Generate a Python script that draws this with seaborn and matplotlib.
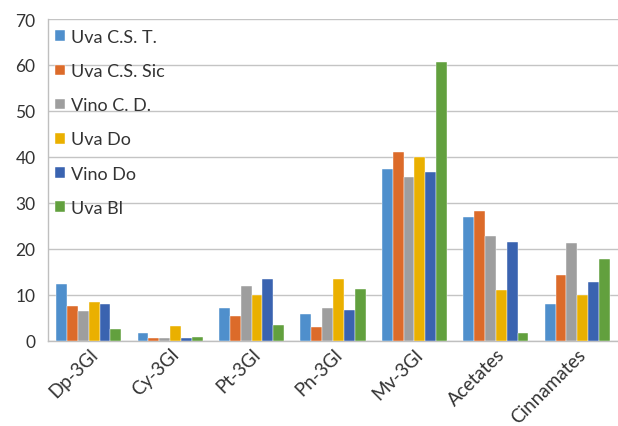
import matplotlib
matplotlib.use("Agg")
import matplotlib.pyplot as plt
from matplotlib.ticker import MultipleLocator, FixedLocator
import pandas as pd
import seaborn as sns

categories = ["Dp-3Gl", "Cy-3Gl", "Pt-3Gl", "Pn-3Gl", "Mv-3Gl", "Acetates", "Cinnamates"]
series_names = ["Uva C.S. T.", "Uva C.S. Sic", "Vino C. D.", "Uva Do", "Vino Do", "Uva Bl"]

uva_cs_t   = [12.5, 1.7, 7.1, 5.9, 37.5, 27.0, 8.0]
uva_cs_sic = [7.7, 0.6, 5.4, 3.0, 41.0, 28.3, 14.4]
vino_cd    = [6.5, 0.6, 11.9, 7.1, 35.7, 22.8, 21.2]
uva_do     = [8.5, 3.3, 10.1, 13.4, 40.0, 11.1, 10.1]
vino_do    = [8.0, 0.6, 13.5, 6.7, 36.7, 21.5, 12.9]
uva_bl     = [2.6, 0.8, 3.5, 11.2, 60.7, 1.7, 17.8]

colors = ["#4F8FCC", "#DC6B2A", "#9E9E9E", "#EAB000", "#3A63B0", "#62A03E"]

series_values = [uva_cs_t, uva_cs_sic, vino_cd, uva_do, vino_do, uva_bl]
rows = []
for name, vals in zip(series_names, series_values):
    for cat, v in zip(categories, vals):
        rows.append({"category": cat, "series": name, "value": v})
df = pd.DataFrame(rows)

sns.set_theme(style="white")
plt.rcParams["font.family"] = ["Lato", "DejaVu Sans"]

fig = plt.figure(figsize=(6.18, 4.27), dpi=100)
ax = fig.add_axes([48 / 618, 1 - 342 / 427, 570 / 618, 322 / 427])

sns.barplot(data=df, x="category", y="value", hue="series", order=categories,
            hue_order=series_names, palette=colors, width=0.8, saturation=1,
            edgecolor="white", linewidth=0.3, ax=ax, zorder=3)

ax.set_ylim(0, 70)
ax.set_xlim(-0.5, len(categories) - 0.5)
ax.yaxis.set_major_locator(MultipleLocator(10))
ax.yaxis.grid(True, color="#C4C4C4", linewidth=1.0, zorder=0)
ax.set_axisbelow(True)
ax.set_xlabel("")
ax.set_ylabel("")

for side in ["top", "right"]:
    ax.spines[side].set_visible(False)
for side in ["left", "bottom"]:
    ax.spines[side].set_color("#BFBFBF")
    ax.spines[side].set_linewidth(1.0)

ax.tick_params(axis="y", length=0, labelsize=12.5, colors="#333333", pad=9)
ax.tick_params(axis="x", which="major", length=0, labelsize=13.5, colors="#333333", pad=3)
ax.xaxis.set_minor_locator(FixedLocator([i - 0.5 for i in range(len(categories) + 1)]))
ax.tick_params(axis="x", which="minor", length=5, color="#BFBFBF", width=1.0)
for lbl in ax.get_xticklabels():
    lbl.set_rotation(45)
    lbl.set_ha("right")
    lbl.set_rotation_mode("anchor")

leg = ax.legend(loc="upper left", bbox_to_anchor=(0.012, 0.968), frameon=False,
                fontsize=13, labelspacing=1.0, handlelength=0.55, handleheight=0.55,
                handletextpad=0.35, borderpad=0, borderaxespad=0)
for t in leg.get_texts():
    t.set_color("#333333")

fig.savefig("out.png", dpi=100)
